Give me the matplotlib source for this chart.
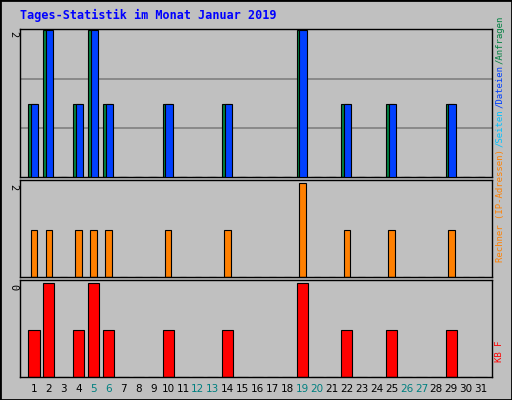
import matplotlib
matplotlib.use("Agg")
import matplotlib.pyplot as plt

days = list(range(1, 32))
anfragen = [1,2,0,1,2,1,0,0,0,1,0,0,0,1,0,0,0,0,2,0,0,1,0,0,1,0,0,0,1,0,0]
dateien  = [1,2,0,1,2,1,0,0,0,1,0,0,0,1,0,0,0,0,2,0,0,1,0,0,1,0,0,0,1,0,0]
rechner  = [1,1,0,1,1,1,0,0,0,1,0,0,0,1,0,0,0,0,2,0,0,1,0,0,1,0,0,0,1,0,0]
kb       = [1,2,0,1,2,1,0,0,0,1,0,0,0,1,0,0,0,0,2,0,0,1,0,0,1,0,0,0,1,0,0]
weekend = [5,6,12,13,19,20,26,27]
W, H = 512, 400
BG = "#C0C0C0"
fig = plt.figure(figsize=(W/100, H/100), dpi=100, facecolor=BG)

def ax_px(l, t, r, b):
    return fig.add_axes([l/W, 1-b/H, (r-l)/W, (b-t)/H], facecolor=BG)

xl = (0.06, 31.74)
def style(ax, top):
    ax.set_xlim(*xl); ax.set_ylim(0, top)
    ax.set_xticks([]); ax.set_yticks([])
    for s in ax.spines.values(): s.set_color("black"); s.set_linewidth(1)

a1 = ax_px(20, 29, 492, 177)
style(a1, 2.02)
for g in (2/3, 4/3):
    a1.axhline(g, color="#808080", lw=1.2, zorder=0)
a1.bar([d-0.1 for d in days], anfragen, width=0.55, color="#008040", edgecolor="black", lw=0.8, zorder=2)
a1.bar([d+0.05 for d in days], dateien, width=0.5, color="#0040FF", edgecolor="black", lw=0.8, zorder=3)

a2 = ax_px(20, 180, 492, 277)
style(a2, 2.06)
a2.bar(days, rechner, width=0.45, color="#FF8000", edgecolor="black", lw=0.8)

a3 = ax_px(20, 280, 492, 377)
style(a3, 2.06)
a3.bar(days, kb, width=0.75, color="#FF0000", edgecolor="black", lw=0.8)

for d in days:
    fig.text((20 + (d - xl[0]) / (xl[1]-xl[0]) * 472)/W, 1-389/H, str(d),
             ha="center", va="center", fontsize=7.5,
             color="#008080" if d in weekend else "black")

mono = "DejaVu Sans Mono"
fig.text(20/W, 1-15/H, "Tages-Statistik im Monat Januar 2019", color="#0000FF",
         fontsize=8.5, fontweight="bold", family=mono, va="center")
for y, s in [(31, "2"), (184, "2"), (284, "0")]:
    fig.text(13/W, 1-y/H, s, rotation=-90, fontsize=7.5, family=mono, ha="center", va="top")

fs = 6.5
cw = 0.6 * fs * 100 / 72  # px per char
y = 262
for s, c in [("Rechner (IP-Adressen)", "#FF8000"), ("/Seiten", "#00C0FF"),
             ("/Dateien", "#0040FF"), ("/Anfragen", "#008040")]:
    fig.text(500/W, 1-y/H, s, rotation=90, color=c, fontsize=fs, family=mono,
             ha="center", va="bottom")
    y -= len(s) * cw + 1
fig.text(500/W, 1-362/H, "KB F", rotation=90, color="#FF0000", fontsize=fs, family=mono,
         ha="center", va="bottom")

fig.patches.append(plt.Rectangle((0, 0), 1, 1, transform=fig.transFigure, fill=False,
                                 edgecolor="black", lw=2))
fig.savefig("out.png", dpi=100, facecolor=BG)
